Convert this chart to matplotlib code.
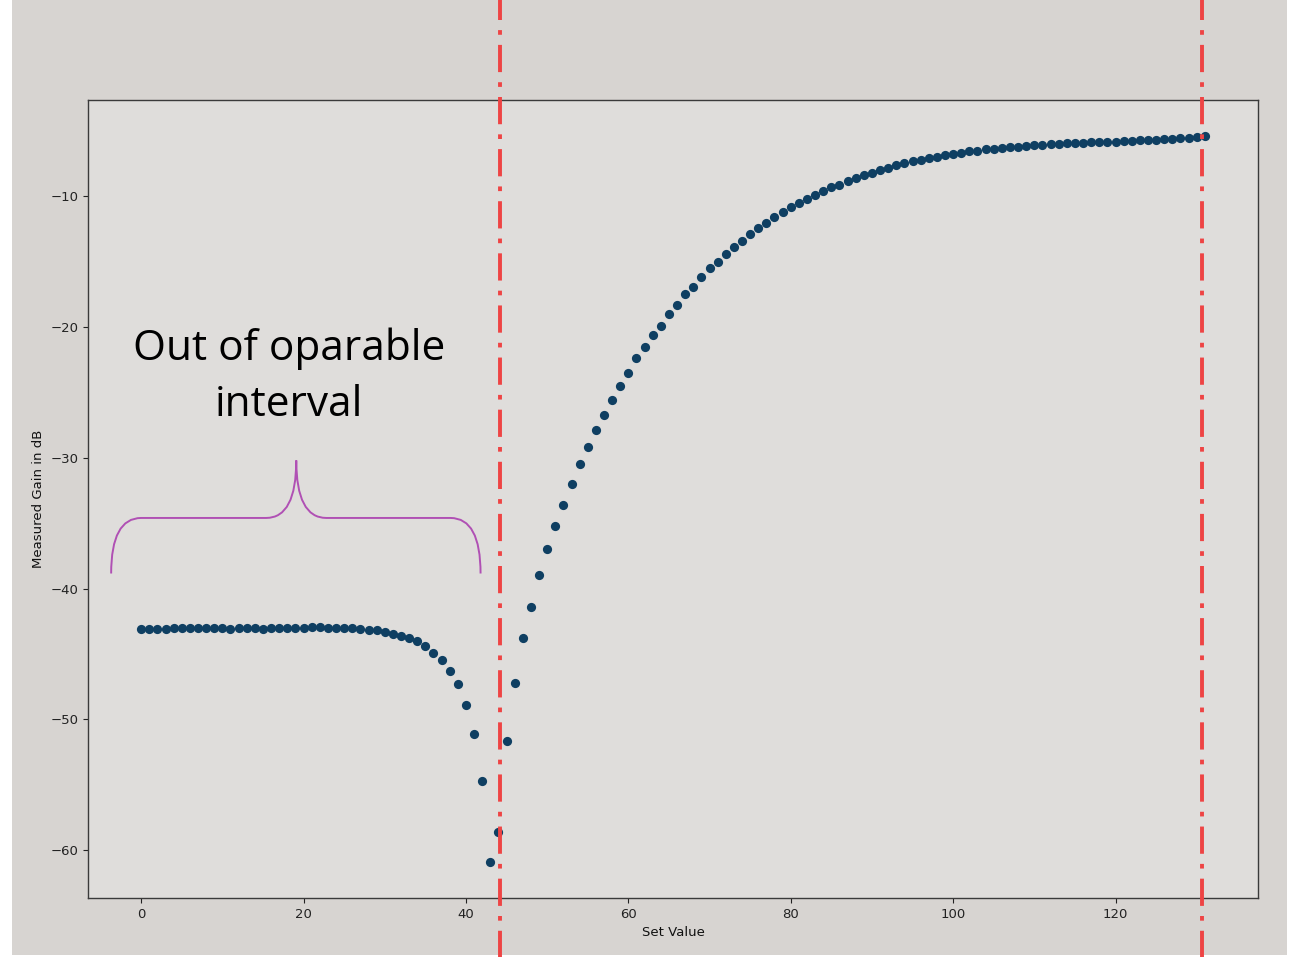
import numpy as np
import matplotlib
matplotlib.use("Agg")
import matplotlib.pyplot as plt
from matplotlib.path import Path
from matplotlib.patches import PathPatch, Rectangle

# ---------------- data ----------------
set_values = list(range(0, 132))
gain_db = [
    -43.10, -43.10, -43.10, -43.10, -43.05, -43.05, -43.00, -43.00, -43.00, -43.05,
    -43.05, -43.10, -43.05, -43.05, -43.05, -43.10, -43.05, -43.05, -43.00, -43.05,
    -43.00, -42.95, -42.95, -43.00, -43.00, -43.05, -43.05, -43.10, -43.15, -43.20,
    -43.30, -43.45, -43.60, -43.80, -44.05, -44.40, -44.90, -45.50, -46.30, -47.30,
    -48.90, -51.10, -54.70, -60.90, -58.60, -51.70, -47.20, -43.80, -41.40, -39.00,
    -37.00, -35.20, -33.60, -32.00, -30.50, -29.20, -27.90, -26.70, -25.60, -24.50,
    -23.50, -22.40, -21.50, -20.60, -19.90, -19.00, -18.30, -17.50, -16.90, -16.20,
    -15.50, -15.00, -14.40, -13.90, -13.40, -12.90, -12.40, -12.00, -11.60, -11.20,
    -10.80, -10.50, -10.20, -9.90, -9.60, -9.30, -9.10, -8.80, -8.60, -8.40,
    -8.20, -7.95, -7.80, -7.60, -7.45, -7.30, -7.20, -7.10, -7.00, -6.85,
    -6.75, -6.65, -6.55, -6.50, -6.40, -6.35, -6.30, -6.25, -6.20, -6.15,
    -6.10, -6.05, -6.00, -5.97, -5.95, -5.92, -5.90, -5.87, -5.85, -5.82,
    -5.80, -5.77, -5.75, -5.72, -5.70, -5.67, -5.63, -5.60, -5.55, -5.50,
    -5.47, -5.40,
]
boundary_lines = [44.2, 130.6]
xticks = [0, 20, 40, 60, 80, 100, 120]
yticks = [-60, -50, -40, -30, -20, -10]
annotation_text = "Out of oparable\ninterval"
brace_left, brace_right = -3.7, 41.8
brace_bottom, brace_level, brace_peak = -38.85, -34.6, -30.2
brace_mid = 19.1

# ---------------- figure ----------------
W, H = 1293, 957
fig = plt.figure(figsize=(W / 100, H / 100), dpi=100, facecolor="white")
fig.patches.append(Rectangle((12 / W, 2 / H), (1287 - 12) / W, 1 - 2 / H,
                             transform=fig.transFigure, facecolor="#d7d4d1",
                             edgecolor="none", zorder=-10))
ax = fig.add_axes([88 / W, 1 - 898 / H, (1258 - 88) / W, (898 - 100) / H])
ax.set_facecolor("#dfdddb")

ax.scatter(set_values, gain_db, s=44, color="#0f3f62", zorder=3, linewidths=0)

ax.set_xticks(xticks)
ax.set_yticks(yticks)
ax.tick_params(labelsize=9.5, colors="#222222")
ax.set_xlabel("Set Value", fontsize=9.5, color="#111111")
ax.set_ylabel("Measured Gain in dB", fontsize=9.5, color="#111111")
for sp in ax.spines.values():
    sp.set_color("#3a3a3a")
    sp.set_linewidth(1.0)

# red dash-dot boundaries extending over the whole figure height
for xv in boundary_lines:
    ax.axvline(xv, ymin=-0.08, ymax=1.13, clip_on=False, color="#ee4444",
               lw=2.8, linestyle=(0, (7, 2.6, 1.2, 2.6)), zorder=4)

# annotation text
ax.text(brace_mid - 0.9, -23.8, annotation_text, ha="center", va="center",
        fontsize=30.5, family="Open Sans", color="black", linespacing=1.42)

# purple brace
ry = brace_level
cx = 3.7
verts = [
    (brace_left, brace_bottom),
    (brace_left, ry), (brace_left + cx, ry),
    (brace_mid - cx, ry),
    (brace_mid, ry), (brace_mid, brace_peak),
    (brace_mid, ry), (brace_mid + cx, ry),
    (brace_right - cx, ry),
    (brace_right, ry), (brace_right, brace_bottom),
]
codes = [Path.MOVETO,
         Path.CURVE3, Path.CURVE3,
         Path.LINETO,
         Path.CURVE3, Path.CURVE3,
         Path.CURVE3, Path.CURVE3,
         Path.LINETO,
         Path.CURVE3, Path.CURVE3]
ax.add_patch(PathPatch(Path(verts, codes), facecolor="none",
                       edgecolor="#b050b4", lw=1.4, clip_on=False, zorder=3))

fig.savefig("out.png", dpi=100, facecolor=fig.get_facecolor())
